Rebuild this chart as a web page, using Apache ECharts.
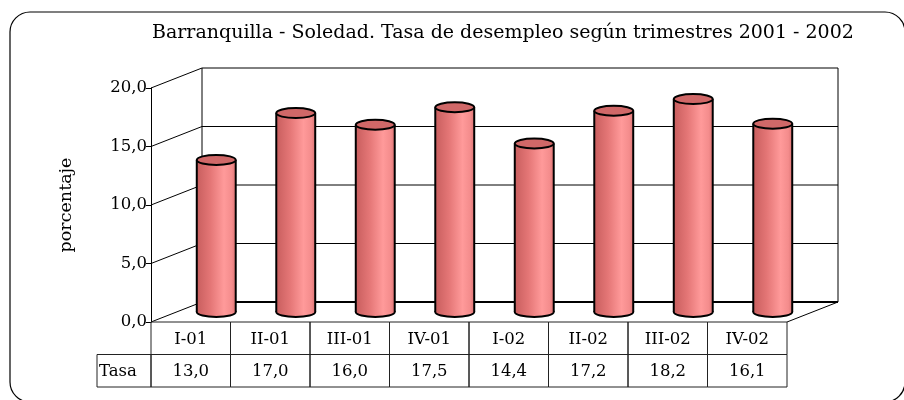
<!DOCTYPE html>
<html>
<head>
<meta charset="utf-8">
<script src="https://cdn.jsdelivr.net/npm/echarts@6/dist/echarts.min.js"></script>
<style>
  html, body { margin: 0; padding: 0; background: #fff; }
  #chart { width: 904px; height: 400px; }
</style>
</head>
<body>
<div id="chart"></div>
<script>
const categories = ['I-01', 'II-01', 'III-01', 'IV-01', 'I-02', 'II-02', 'III-02', 'IV-02']
const tasa = [13.0, 17.0, 16.0, 17.5, 14.4, 17.2, 18.2, 16.1]
const yTicks = [0, 5, 10, 15, 20]
const rowLabel = 'Tasa'

const FONT = 'DejaVu Serif'
// profundidad del efecto 3D (px)
const DX = 51
const DY = -20
const ROW_H = 32.5

const fmt = v => v.toFixed(1).replace('.', ',')

function bandInfo(api) {
  const bw = api.size([1, 0])[0]
  const x0 = api.coord([0, 0])[0] - bw / 2
  const x1 = api.coord([categories.length - 1, 0])[0] + bw / 2
  return { bw, x0, x1 }
}

// paredes y piso
function renderFrame(params, api) {
  const t = api.value(1)
  const { x0, x1 } = bandInfo(api)
  const y = api.coord([0, t])[1]
  const yTop = api.coord([0, yTicks[yTicks.length - 1]])[1]
  const yBase = api.coord([0, yTicks[0]])[1]
  const w = t === yTicks[0] ? 2 : 1
  const children = [
    { type: 'line', shape: { x1: x0, y1: y, x2: x0 + DX, y2: y + DY }, style: { stroke: '#000', lineWidth: 1 } },
    { type: 'line', shape: { x1: x0 + DX, y1: y + DY, x2: x1 + DX, y2: y + DY }, style: { stroke: '#000', lineWidth: w } }
  ]
  if (t === yTicks[0]) {
    children.push({ type: 'line', shape: { x1: x1, y1: yBase, x2: x1 + DX, y2: yBase + DY }, style: { stroke: '#000', lineWidth: 1 } })
  }
  if (t === yTicks[yTicks.length - 1]) {
    children.push({ type: 'line', shape: { x1: x0 + DX, y1: yTop + DY, x2: x0 + DX, y2: yBase + DY }, style: { stroke: '#000', lineWidth: 1 } })
    children.push({ type: 'line', shape: { x1: x1 + DX, y1: yTop + DY, x2: x1 + DX, y2: yBase + DY }, style: { stroke: '#000', lineWidth: 1 } })
  }
  return { type: 'group', children }
}

// cilindros
function renderCylinder(params, api) {
  const i = api.value(0)
  const v = api.value(1)
  const bw = api.size([1, 0])[0]
  const cx = api.coord([i, 0])[0] + DX / 2
  const base = api.coord([i, 0])[1] + DY / 2
  const top = api.coord([i, v])[1] + DY / 2
  const rx = bw * 0.245
  const ry = 5
  const grad = new echarts.graphic.LinearGradient(0, 0, 1, 0, [
    { offset: 0, color: '#c85e5e' },
    { offset: 0.35, color: '#e47676' },
    { offset: 0.7, color: '#ff9a9a' },
    { offset: 0.9, color: '#f48c8c' },
    { offset: 1, color: '#dc7474' }
  ])
  return {
    type: 'group',
    children: [
      { type: 'ellipse', shape: { cx: cx, cy: base, rx: rx, ry: ry }, style: { fill: grad, stroke: '#000', lineWidth: 2 } },
      { type: 'rect', shape: { x: cx - rx, y: top, width: rx * 2, height: base - top }, style: { fill: grad } },
      { type: 'line', shape: { x1: cx - rx, y1: top, x2: cx - rx, y2: base }, style: { stroke: '#000', lineWidth: 2 } },
      { type: 'line', shape: { x1: cx + rx, y1: top, x2: cx + rx, y2: base }, style: { stroke: '#000', lineWidth: 2 } },
      { type: 'ellipse', shape: { cx: cx, cy: top, rx: rx, ry: ry }, style: { fill: '#d06868', stroke: '#000', lineWidth: 2 } }
    ]
  }
}

// tabla de datos
function renderTable(params, api) {
  const i = api.value(0)
  const v = api.value(1)
  const bw = api.size([1, 0])[0]
  const xl = api.coord([i, 0])[0] - bw / 2
  const y0 = api.coord([i, 0])[1]
  const cellStyle = { fill: 'none', stroke: '#222', lineWidth: 1 }
  const txt = (x, y, s, align) => ({
    type: 'text', x: x, y: y,
    style: { text: s, font: '16.5px "' + FONT + '"', fill: '#000', align: align || 'center', verticalAlign: 'middle' }
  })
  const children = [
    { type: 'rect', shape: { x: xl, y: y0, width: bw, height: ROW_H }, style: cellStyle },
    { type: 'rect', shape: { x: xl, y: y0 + ROW_H, width: bw, height: ROW_H }, style: cellStyle },
    txt(xl + bw / 2, y0 + ROW_H / 2 + 1, categories[i]),
    txt(xl + bw / 2, y0 + ROW_H * 1.5 + 1, fmt(v))
  ]
  if (i === 0) {
    children.push({ type: 'rect', shape: { x: xl - 54, y: y0 + ROW_H, width: 54, height: ROW_H }, style: cellStyle })
    children.push(txt(xl - 52, y0 + ROW_H * 1.5 + 1, rowLabel, 'left'))
  }
  return { type: 'group', children }
}

const chart = echarts.init(document.getElementById('chart'))

chart.setOption({
  animation: false,
  title: {
    text: 'Barranquilla - Soledad. Tasa de desempleo según trimestres 2001 - 2002',
    left: 147,
    top: 19,
    textStyle: { fontFamily: FONT, fontSize: 19, fontWeight: 'normal', color: '#000' }
  },
  graphic: [{
    type: 'rect',
    shape: { x: 10, y: 12, width: 895, height: 390, r: 20 },
    style: { fill: 'none', stroke: '#000', lineWidth: 1.2 },
    z: -10
  }],
  grid: { left: 151, right: 117, top: 88, bottom: 78 },
  xAxis: {
    type: 'category',
    data: categories,
    axisLine: { show: false },
    axisTick: { show: false },
    axisLabel: { show: false },
    splitLine: { show: false }
  },
  yAxis: {
    type: 'value',
    min: yTicks[0],
    max: yTicks[yTicks.length - 1],
    interval: yTicks[1] - yTicks[0],
    name: 'porcentaje',
    nameLocation: 'middle',
    nameGap: 76,
    nameTextStyle: { fontFamily: FONT, fontSize: 17.5, color: '#000' },
    axisLine: { show: true, lineStyle: { color: '#000', width: 1 } },
    axisTick: { show: true, length: 5, lineStyle: { color: '#000' } },
    axisLabel: { fontFamily: FONT, fontSize: 16.5, color: '#000', margin: 4, formatter: v => fmt(v) },
    splitLine: { show: false }
  },
  series: [
    {
      type: 'custom',
      renderItem: renderFrame,
      data: yTicks.map(t => [0, t]),
      z: 1,
      silent: true
    },
    {
      type: 'custom',
      renderItem: renderCylinder,
      data: tasa.map((v, i) => [i, v]),
      z: 3
    },
    {
      type: 'custom',
      renderItem: renderTable,
      data: tasa.map((v, i) => [i, v]),
      z: 4,
      silent: true
    }
  ]
})
</script>
</body>
</html>
